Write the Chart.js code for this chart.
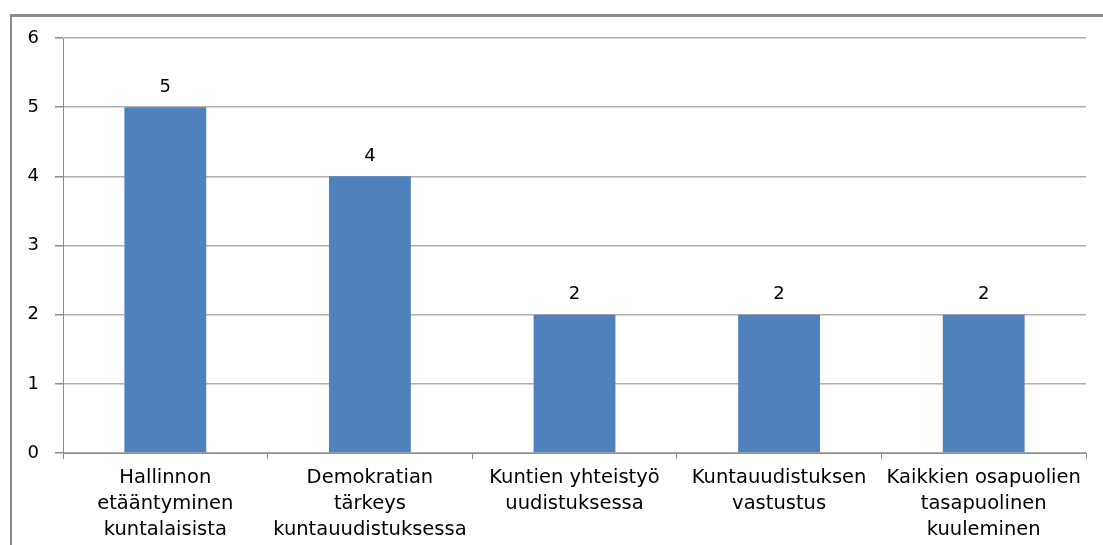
<!DOCTYPE html>
<html>
<head>
<meta charset="utf-8">
<script src="https://cdn.jsdelivr.net/npm/chart.js@4/dist/chart.umd.min.js"></script>
<style>
html,body{margin:0;padding:0;background:#fff;overflow:hidden;}
#wrap{position:relative;width:1103px;height:545px;}
#frame{position:absolute;left:10px;top:14px;width:1200px;height:600px;border-left:2px solid #8a8a8a;border-top:3px solid #8a8a8a;}
canvas{position:absolute;left:0;top:0;}
</style>
</head>
<body>
<div id="wrap">
<div id="frame"></div>
<canvas id="chart" width="1103" height="545"></canvas>
</div>
<script>
const categories = [
["Hallinnon","etääntyminen","kuntalaisista"],
["Demokratian","tärkeys","kuntauudistuksessa"],
["Kuntien yhteistyö","uudistuksessa"],
["Kuntauudistuksen","vastustus"],
["Kaikkien osapuolien","tasapuolinen","kuuleminen"]
];
const values = [5,4,2,2,2];
const yTicks = [0,1,2,3,4,5,6];

const font = "'DejaVu Sans', 'Open Sans', sans-serif";

const barLabels = {
id:"barLabels",
afterDatasetsDraw(chart){
const ctx = chart.ctx;
const meta = chart.getDatasetMeta(0);
ctx.save();
ctx.fillStyle = "#000";
ctx.font = "18px " + font;
ctx.textAlign = "center";
ctx.textBaseline = "middle";
meta.data.forEach((bar,i)=>{
ctx.fillText(String(values[i]), bar.x, bar.y - 20);
});
ctx.restore();
}
};

new Chart(document.getElementById("chart"),{
type:"bar",
data:{
labels:categories,
datasets:[{
data:values,
backgroundColor:"#4F81BD",
borderWidth:0,
barPercentage:0.4,
categoryPercentage:1
}]
},
options:{
responsive:false,
animation:false,
layout:{padding:{left:0,right:17,top:38,bottom:0}},
plugins:{
legend:{display:false},
tooltip:{enabled:false}
},
scales:{
x:{
offset:true,
afterFit(scale){scale.height = 92;},
grid:{
offset:true,
drawOnChartArea:false,
drawTicks:true,
tickLength:6,
tickColor:"#8c8c8c"
},
border:{color:"#8c8c8c",width:1},
ticks:{
color:"#000",
font:{family:font,size:19.5,lineHeight:1.33},
padding:6,
maxRotation:0,
autoSkip:false
}
},
y:{
min:0,
max:6,
afterFit(scale){scale.width = 63;},
afterBuildTicks(scale){scale.ticks = yTicks.map(v=>({value:v}));},
grid:{
color:"#b0b0b0",
tickColor:"#8c8c8c",
tickLength:8,
lineWidth:1.5
},
border:{color:"#8c8c8c",width:1},
ticks:{
color:"#000",
font:{family:font,size:18},
padding:16
}
}
}
},
plugins:[barLabels]
});
</script>
</body>
</html>
